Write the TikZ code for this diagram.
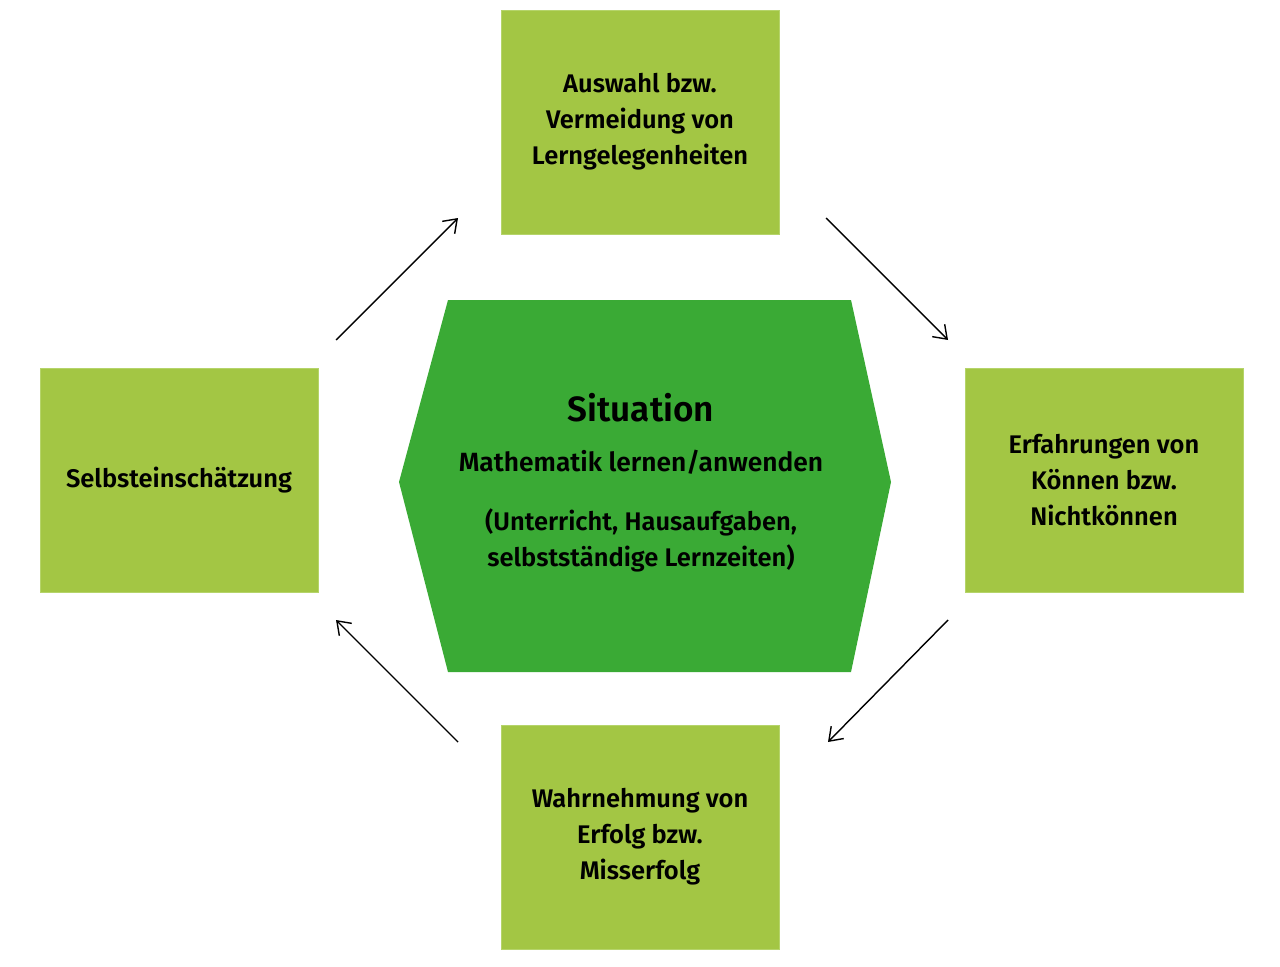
\documentclass[tikz,border=0pt]{standalone}
\usepackage{fontspec}
\setmainfont{Fira Sans}[BoldFont={Fira Sans SemiBold}]
\usetikzlibrary{arrows.meta,positioning}
\definecolor{boxgreen}{HTML}{A3C644}
\definecolor{boxline}{HTML}{B5D46A}
\definecolor{hexgreen}{HTML}{3AAA35}
\tikzset{
  stage/.style={draw=boxline, fill=boxgreen, minimum width=278*0.02cm, minimum height=224*0.02cm,
    align=center, inner sep=0pt, font=\fontsize{14.5}{20.5}\selectfont\bfseries},
  flow/.style={-{Straight Barb[length=7pt,width=10pt]}, thick}
}
\begin{document}
\begin{tikzpicture}[x=0.02cm, y=-0.02cm]
        \useasboundingbox (0, 0) rectangle (1280, 966);

        % Situation in the middle
        \fill[hexgreen] (448, 300) -- (851, 300) -- (891, 482) -- (851, 672) -- (448, 672) -- (399, 482) -- cycle;
        \node[font=\fontsize{20}{24}\selectfont\bfseries] (sit) at (641, 408) {Situation};
        \node[font=\fontsize{15}{20}\selectfont\bfseries] (sitmain) at (641, 462) {Mathematik lernen/anwenden};
        \node[font=\fontsize{14.5}{20.5}\selectfont\bfseries, align=center] (sitsub) at (641, 540)
          {(Unterricht, Hausaufgaben,\\selbstständige Lernzeiten)};

        % the four stages
        \node[stage] (wahl) at (640, 122) {Auswahl bzw.\\Vermeidung von\\Lerngelegenheiten};
        \node[stage] (erf) at (1104, 480) {Erfahrungen von\\Können bzw.\\Nichtkönnen};
        \node[stage] (wahrn) at (640, 837) {Wahrnehmung von\\Erfolg bzw.\\Misserfolg};
        \node[stage] (selbst) at (179, 480) {Selbsteinschätzung};

        % arrow ends
        \coordinate (a1) at (336, 340);
        \coordinate (a2) at (458, 218);
        \coordinate (b1) at (826, 218);
        \coordinate (b2) at (948, 340);
        \coordinate (c1) at (948, 620);
        \coordinate (c2) at (828, 742);
        \coordinate (d1) at (458, 742);
        \coordinate (d2) at (336, 620);

        \draw[flow] (a1) -- (a2);
        \draw[flow] (b1) -- (b2);
        \draw[flow] (c1) -- (c2);
        \draw[flow] (d1) -- (d2);
\end{tikzpicture}
\end{document}
